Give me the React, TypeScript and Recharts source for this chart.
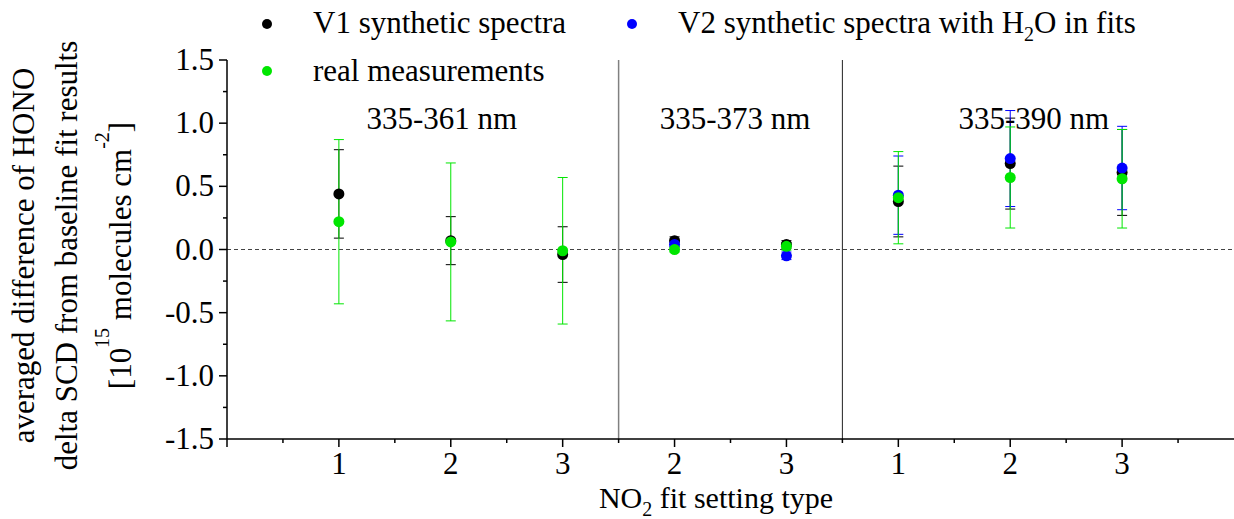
import React, { useLayoutEffect, useRef } from "react";
import {
  ScatterChart,
  Scatter,
  XAxis,
  YAxis,
  ErrorBar,
  ReferenceLine,
  ReferenceDot,
  Legend,
  Label,
} from "recharts";

// x positions of the fit settings, grouped by wavelength range
const positions = [1, 2, 3, 4, 5, 6, 7, 8];
const tickLabels = ["1", "2", "3", "2", "3", "1", "2", "3"];

const v1Values = [0.44, 0.07, -0.04, 0.07, 0.04, 0.38, 0.68, 0.61];
const v1Errors = [0.35, 0.19, 0.22, 0.03, 0.03, 0.28, 0.36, 0.34];
const v2Values = [null, null, null, 0.04, -0.05, 0.43, 0.72, 0.645];
const v2Errors = [null, null, null, 0.02, 0.03, 0.31, 0.38, 0.33];
const realValues = [0.22, 0.06, -0.01, 0.0, 0.025, 0.41, 0.57, 0.56];
const realErrors = [0.65, 0.625, 0.58, 0.02, 0.03, 0.365, 0.4, 0.39];

const xTicks = [0, 0.5, 1, 1.5, 2, 2.5, 3, 3.5, 4, 4.5, 5, 5.5, 6, 6.5, 7, 7.5, 8, 8.5];
const yTicks = [
  -1.5, -1.25, -1, -0.75, -0.5, -0.25, 0, 0.25, 0.5, 0.75, 1, 1.25, 1.5,
];
const separators = [3.5, 5.5];
const rangeLabels = ["335-361 nm", "335-373 nm", "335-390 nm"];
const rangeLabelX = [1.92, 4.54, 7.21];
const rangeLabelY = 0.95;

const FONT = "Liberation Serif";
const BLACK = "#000000";
const BLUE = "#0000ff";
const GREEN = "#00e600";

const toPoints = (values: Array<number | null>, errors: Array<number | null>) =>
  positions
    .map((x, i) => ({ x, y: values[i], err: errors[i] }))
    .filter((p) => p.y !== null);

const v1Data = toPoints(v1Values, v1Errors);
const v2Data = toPoints(v2Values, v2Errors);
const realData = toPoints(realValues, realErrors);

const dot = (color: string) => (p: any) =>
  <circle cx={p.cx} cy={p.cy} r={5.5} fill={color} />;

const XTick = (props: any) => {
  const { x, y, payload } = props;
  const v = payload.value;
  const major = Number.isInteger(v);
  const idx = positions.indexOf(v);
  return (
    <g>
      <line x1={x} x2={x} y1={y} y2={y + (major ? 8 : 4)} stroke="#000" strokeWidth={1.5} />
      {idx >= 0 && (
        <text x={x} y={y + 35} textAnchor="middle" fontFamily={FONT} fontSize={31} fill="#000">
          {tickLabels[idx]}
        </text>
      )}
    </g>
  );
};

const YTick = (props: any) => {
  const { x, y, payload } = props;
  const v = payload.value;
  const major = Math.abs(v * 2 - Math.round(v * 2)) < 1e-6;
  return (
    <g>
      <line x1={x} x2={x - (major ? 8 : 4)} y1={y} y2={y} stroke="#000" strokeWidth={1.5} />
      {major && (
        <text x={x - 13} y={y + 10} textAnchor="end" fontFamily={FONT} fontSize={31} fill="#000">
          {v.toFixed(1)}
        </text>
      )}
    </g>
  );
};

const YTitle = (props: any) => {
  const { viewBox } = props;
  const cy = viewBox.y + viewBox.height / 2 + 6;
  const lines = [34, 77, 131];
  return (
    <g fontFamily={FONT} fontSize={31} fill="#000">
      <text x={lines[0]} y={cy} textAnchor="middle" transform={`rotate(-90, ${lines[0]}, ${cy})`}>
        averaged difference of HONO
      </text>
      <text x={lines[1]} y={cy} textAnchor="middle" transform={`rotate(-90, ${lines[1]}, ${cy})`}>
        delta SCD from baseline fit results
      </text>
      <text x={lines[2]} y={cy} textAnchor="middle" transform={`rotate(-90, ${lines[2]}, ${cy})`}>
        [10
        <tspan fontSize={20} dy={-22}>15</tspan>
        <tspan dy={22}> molecules cm</tspan>
        <tspan fontSize={20} dy={-22}>-2</tspan>
        <tspan dy={22}>]</tspan>
      </text>
    </g>
  );
};

const XTitle = () => (
  <text x={716} y={508} textAnchor="middle" fontFamily={FONT} fontSize={30} fill="#000">
    NO
    <tspan fontSize={20} dy={8}>2</tspan>
    <tspan dy={-8}> fit setting type</tspan>
  </text>
);

const RangeLabel = (text: string) => (props: any) => {
  const { viewBox } = props;
  return (
    <text
      x={viewBox.x + viewBox.width / 2}
      y={viewBox.y + viewBox.height / 2}
      textAnchor="middle"
      fontFamily={FONT}
      fontSize={31}
      fill="#000"
    >
      {text}
    </text>
  );
};

const legendSlots: Record<string, { dx: number; dy: number; ty: number }> = {
  "V1 synthetic spectra": { dx: 267, dy: 24, ty: 33 },
  v2: { dx: 632, dy: 24, ty: 33 },
  "real measurements": { dx: 267, dy: 71, ty: 81 },
};

const LegendContent = (props: any) => {
  const { payload } = props;
  return (
    <svg width={1234} height={95} style={{ display: "block" }}>
      {payload.map((entry: any) => {
        const s = legendSlots[entry.value];
        if (!s) return null;
        return (
          <g key={entry.value}>
            <circle cx={s.dx} cy={s.dy} r={5} fill={entry.color} />
            <text x={s.dx + 46} y={s.ty} fontFamily={FONT} fontSize={31} fill="#000">
              {entry.value === "v2" ? (
                <>
                  V2 synthetic spectra with H
                  <tspan fontSize={20} dy={8}>2</tspan>
                  <tspan dy={-8}>O in fits</tspan>
                </>
              ) : (
                entry.value
              )}
            </text>
          </g>
        );
      })}
    </svg>
  );
};

const HonoDifferenceChart = () => {
  return (
    <ScatterChart width={1234} height={519} margin={{ top: 60, right: 0, bottom: 0, left: 0 }}>
      <XAxis
        type="number"
        dataKey="x"
        domain={[0, 9]}
        ticks={xTicks}
        interval={0}
        tick={<XTick />}
        tickLine={false}
        tickSize={0}
        tickMargin={0}
        height={80}
        axisLine={{ stroke: "#000", strokeWidth: 1.5 }}
        allowDataOverflow
      >
        <Label content={<XTitle />} />
      </XAxis>
      <YAxis
        type="number"
        dataKey="y"
        domain={[-1.5, 1.5]}
        ticks={yTicks}
        interval={0}
        tick={<YTick />}
        tickLine={false}
        tickSize={0}
        tickMargin={0}
        width={227}
        axisLine={{ stroke: "#000", strokeWidth: 1.5 }}
        allowDataOverflow
      >
        <Label content={<YTitle />} />
      </YAxis>
      <ReferenceLine y={0} stroke="#444" strokeWidth={1.2} strokeDasharray="4 3" />
      <ReferenceLine x={separators[0]} stroke="#808080" strokeWidth={1.5} />
      <ReferenceLine x={separators[1]} stroke="#222" strokeWidth={1} />
      {rangeLabels.map((t, i) => (
        <ReferenceDot
          key={t}
          x={rangeLabelX[i]}
          y={rangeLabelY}
          r={0}
          fill="none"
          stroke="none"
          label={RangeLabel(t)}
        />
      ))}
      <Legend
        layout="horizontal"
        verticalAlign="middle"
        align="center"
        wrapperStyle={{ top: 0, left: 0, width: 1234, height: 95 }}
        content={<LegendContent />}
      />
      <Scatter name="V1 synthetic spectra" data={v1Data} fill={BLACK} shape={dot(BLACK)} isAnimationActive={false}>
        <ErrorBar dataKey="err" direction="y" width={5} stroke={BLACK} strokeWidth={1} />
      </Scatter>
      <Scatter name="v2" data={v2Data} fill={BLUE} shape={dot(BLUE)} isAnimationActive={false}>
        <ErrorBar dataKey="err" direction="y" width={5} stroke={BLUE} strokeWidth={1} />
      </Scatter>
      <Scatter name="real measurements" data={realData} fill={GREEN} shape={dot(GREEN)} isAnimationActive={false}>
        <ErrorBar dataKey="err" direction="y" width={5} stroke={GREEN} strokeWidth={1} />
      </Scatter>
    </ScatterChart>
  );
};

export default function App() {
  const ref = useRef<HTMLDivElement>(null);

  // pin the serif face on every text node once the chart is in the page
  useLayoutEffect(() => {
    const apply = () => {
      ref.current?.querySelectorAll("text, tspan").forEach((el) => {
        (el as SVGElement).style.setProperty("font-family", "'Liberation Serif', serif", "important");
      });
    };
    apply();
    const id = window.setTimeout(apply, 50);
    return () => window.clearTimeout(id);
  });

  return (
    <div ref={ref} style={{ position: "absolute", left: 0, top: 0, background: "#fff" }}>
      <HonoDifferenceChart />
    </div>
  );
}
